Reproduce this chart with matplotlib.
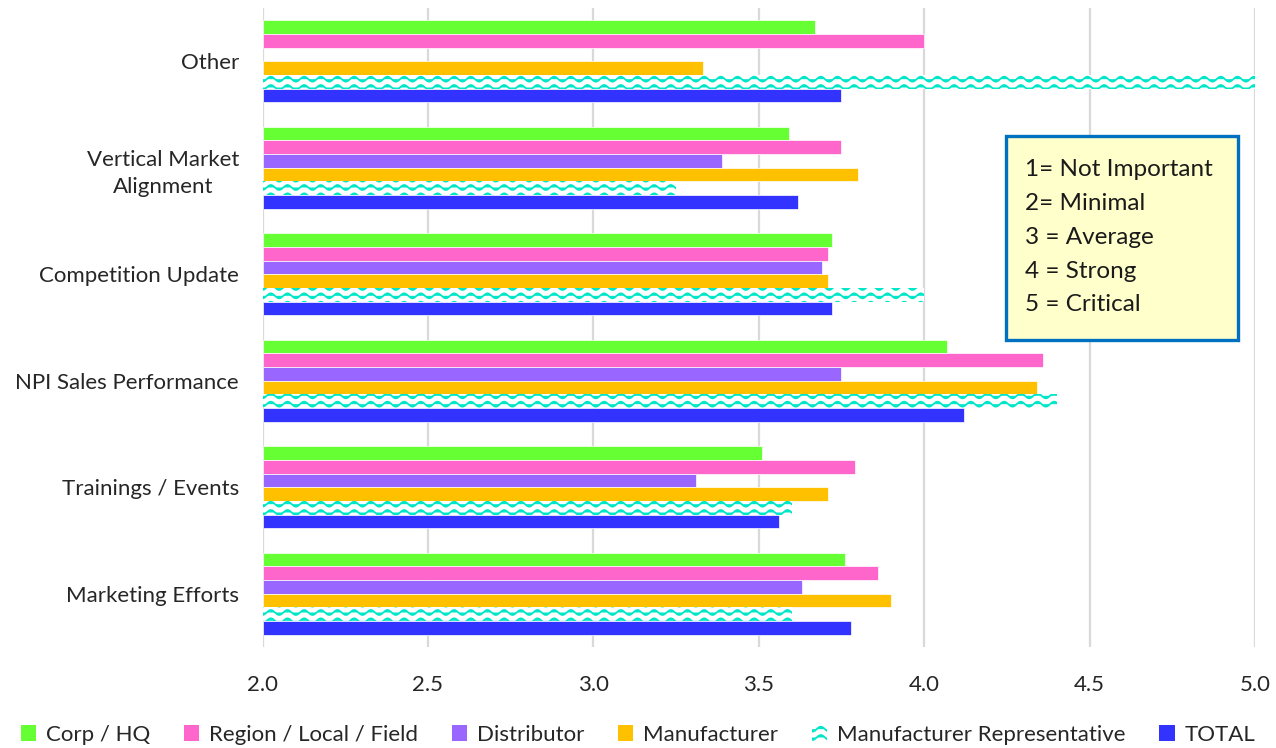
import numpy as np
import matplotlib
matplotlib.use("Agg")
import matplotlib.pyplot as plt
from matplotlib import hatch as mhatch
from matplotlib.path import Path
from matplotlib.patches import Patch, Rectangle


# wavy hatch for the "Manufacturer Representative" series, bound to the 'O' character
class WaveHatch(mhatch.HatchPatternBase):
    def __init__(self, hatch, density):
        self.rows = int(hatch.count('O') * density)
        self.waves = max(self.rows // 2, 1)
        self.pts = 16
        self.num_vertices = self.rows * (self.waves * self.pts + 1)

    def set_vertices_and_codes(self, vertices, codes):
        n = self.rows
        per_row = self.waves * self.pts + 1
        x = np.linspace(0.0, 1.0, per_row)
        amp = 0.3 / n
        for r in range(n):
            y0 = (r + 0.5) / n
            s = slice(r * per_row, (r + 1) * per_row)
            vertices[s, 0] = x
            vertices[s, 1] = y0 + amp * np.sin(2 * np.pi * self.waves * x)
            codes[s] = Path.LINETO
            codes[r * per_row] = Path.MOVETO


mhatch._hatch_types = [t for t in mhatch._hatch_types if t is not mhatch.LargeCircles] + [WaveHatch]

plt.rcParams['font.family'] = ['Lato', 'DejaVu Sans']
plt.rcParams['hatch.linewidth'] = 1.25

categories = ['Marketing Efforts', 'Trainings / Events', 'NPI Sales Performance',
              'Competition Update', 'Vertical Market\nAlignment', 'Other']
series = ['Corp / HQ', 'Region / Local / Field', 'Distributor', 'Manufacturer',
          'Manufacturer Representative', 'TOTAL']

corp_hq = [3.76, 3.51, 4.07, 3.72, 3.59, 3.67]
region_local = [3.86, 3.79, 4.36, 3.71, 3.75, 4.00]
distributor = [3.63, 3.31, 3.75, 3.69, 3.39, np.nan]
manufacturer = [3.90, 3.71, 4.34, 3.71, 3.80, 3.33]
manuf_rep = [3.60, 3.60, 4.40, 4.00, 3.25, 5.00]
total = [3.78, 3.56, 4.12, 3.72, 3.62, 3.75]

values = [corp_hq, region_local, distributor, manufacturer, manuf_rep, total]
colors = ['#66FF33', '#FF66CC', '#9966FF', '#FFC000', 'white', '#3333FF']
rep_color = '#00E6C8'
scale_lines = ['1= Not Important', '2= Minimal', '3 = Average', '4 = Strong', '5 = Critical']

W, H = 1276, 748
fig = plt.figure(figsize=(W / 100, H / 100), dpi=100)
ax = fig.add_axes([262.5 / W, 1 - 647 / H, 992.5 / W, 639 / H])

y = np.arange(len(categories))
bar_h = 0.128
baseline = 2.0
for i, (name, vals, col) in enumerate(zip(series, values, colors)):
    offset = (2.5 - i) * bar_h
    w = np.array(vals) - baseline
    if name == 'Manufacturer Representative':
        ax.barh(y + offset, w, left=baseline, height=bar_h, color='white',
                edgecolor=rep_color, hatch='OO', linewidth=0, zorder=3)
    else:
        ax.barh(y + offset, w, left=baseline, height=bar_h, color=col,
                edgecolor='white', linewidth=0.5, zorder=3)

ticks = np.arange(2.0, 5.01, 0.5)
ax.set_xlim(2.0, 5.0)
ax.set_ylim(-0.5, len(categories) - 0.5)
ax.set_xticks(ticks)
ax.set_xticklabels([f'{v:.1f}' for v in ticks])
ax.set_yticks(y)
ax.set_yticklabels(categories, multialignment='center', linespacing=1.45)
ax.tick_params(axis='both', length=0, labelsize=16, colors='#262626')
ax.tick_params(axis='y', pad=17)
ax.tick_params(axis='x', pad=20)
ax.grid(axis='x', color='#D9D9D9', linewidth=1.6, zorder=0)
for s in ax.spines.values():
    s.set_visible(False)

# rating scale note
fig.patches.append(Rectangle((1006 / W, 1 - 340 / H), 232 / W, 204 / H,
                             transform=fig.transFigure, facecolor='#FFFFCC',
                             edgecolor='#0070C0', linewidth=2.4, zorder=5))
for k, line in enumerate(scale_lines):
    fig.text(1025 / W, 1 - (170 + 33.7 * k) / H, line, fontsize=17.5,
             ha='left', va='center', color='#1a1a1a', zorder=6)

handles = []
for name, col in zip(series, colors):
    if name == 'Manufacturer Representative':
        handles.append(Patch(facecolor='white', edgecolor=rep_color, hatch='OO',
                             linewidth=0, label=name))
    else:
        handles.append(Patch(facecolor=col, edgecolor='none', label=name))
leg = fig.legend(handles=handles, loc='center', bbox_to_anchor=(0.5, 1 - 735 / H), ncol=6,
                 frameon=False, fontsize=16, handlelength=0.7, handleheight=0.7,
                 handletextpad=0.45, columnspacing=1.5)
for t in leg.get_texts():
    t.set_color('#262626')

fig.savefig('out.png', dpi=100)
